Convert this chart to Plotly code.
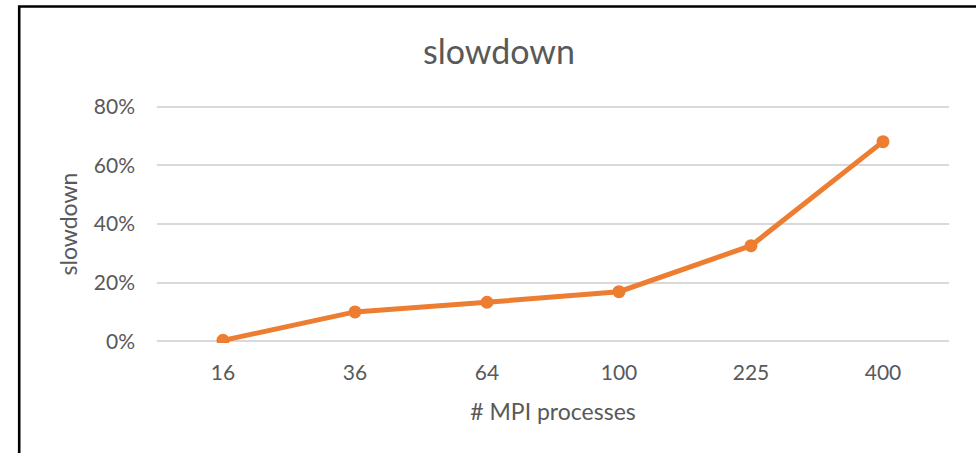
import plotly.graph_objects as go

# MPI process counts (category axis) and the measured slowdown
processes = ["16", "36", "64", "100", "225", "400"]
slowdown = [0.003, 0.100, 0.133, 0.169, 0.326, 0.681]
y_ticks = [0, 0.2, 0.4, 0.6, 0.8]

W, H = 976, 453
# plot area: 0% sits at y=341, 80% at y=107; a small pad keeps the edge gridlines visible
Y_PAD = 0.006
px_per_unit = (341 - 107) / 0.8
pad_px = Y_PAD * px_per_unit
L, R = 157, 27
T = 107 - pad_px
B = (H - 341) - pad_px
plot_w = W - L - R
plot_h = H - T - B

FONT = "Lato"
GREY = "#595959"
ORANGE = "#ED7D31"

fig = go.Figure(
    go.Scatter(
        x=processes,
        y=slowdown,
        mode="lines+markers",
        line=dict(color=ORANGE, width=5),
        marker=dict(color=ORANGE, size=13),
        hoverinfo="x+y",
    )
)


def px_to_paper_x(px):
    return (px - L) / plot_w


def px_to_paper_y(py):
    return (H - B - py) / plot_h


# chart frame (only its top and left edges fall inside the page)
fig.add_shape(
    type="rect", xref="paper", yref="paper",
    x0=px_to_paper_x(19.2), x1=px_to_paper_x(990),
    y0=px_to_paper_y(470), y1=px_to_paper_y(7),
    line=dict(color="black", width=2.6), fillcolor="rgba(0,0,0,0)",
    layer="below",
)

fig.update_layout(
    width=W, height=H,
    margin=dict(l=L, r=R, t=T, b=B, pad=0),
    paper_bgcolor="white",
    plot_bgcolor="white",
    showlegend=False,
    font=dict(family=FONT, color=GREY),
    title=dict(
        text="slowdown",
        font=dict(family=FONT, size=34, color=GREY),
        x=499 / W, xref="container", xanchor="center",
        y=1 - 52 / H, yref="container", yanchor="middle",
    ),
    xaxis=dict(
        type="category",
        range=[-0.5, len(processes) - 0.5],
        showgrid=False, zeroline=False, showline=False,
        ticks="", tickfont=dict(size=21, color=GREY),
        ticklabelstandoff=15,
        title=dict(text="# MPI processes", font=dict(size=23, color=GREY), standoff=20),
    ),
    yaxis=dict(
        range=[-Y_PAD, 0.8 + Y_PAD],
        tickvals=y_ticks,
        tickformat=".0%",
        showgrid=True, gridcolor="#D9D9D9", gridwidth=2,
        zeroline=False, showline=False,
        ticks="", tickfont=dict(size=21, color=GREY),
        ticklabelstandoff=21,
        title=dict(text="slowdown", font=dict(size=23, color=GREY), standoff=9),
    ),
)

fig.write_html("out.html")
